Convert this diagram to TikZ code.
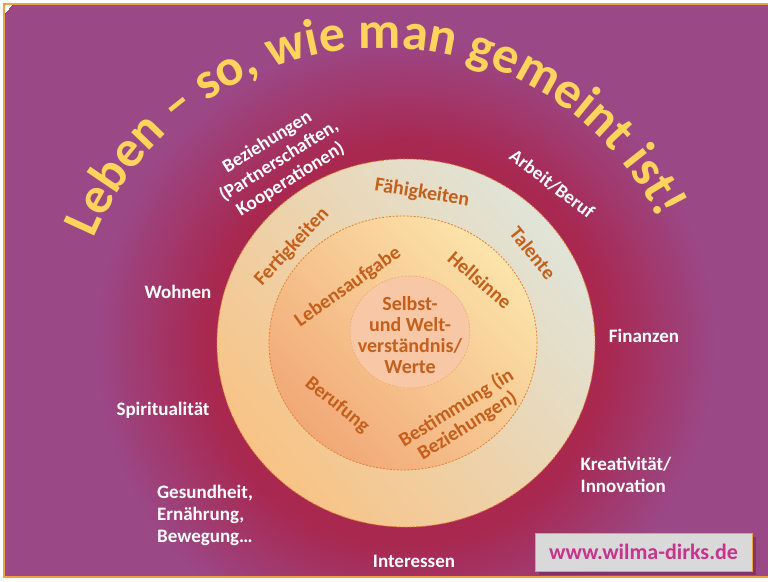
\documentclass[tikz,border=0pt]{standalone}
\usepackage{fontspec}
\setmainfont{Carlito}
\usepackage{tikz}
\usetikzlibrary{decorations.text,shadows,positioning}

\definecolor{purp}{HTML}{9B4887}
\definecolor{crim}{HTML}{A82850}
\definecolor{frameorange}{HTML}{F0A040}
\definecolor{titleyellow}{HTML}{FFD35C}
\definecolor{ringorange}{HTML}{F8C385}
\definecolor{ringyellow}{HTML}{FEEBB2}
\definecolor{ringblue}{HTML}{D6E2E5}
\definecolor{midsalmon}{HTML}{F1A877}
\definecolor{midyellow}{HTML}{FCE4AA}
\definecolor{corefill}{HTML}{F7C7A6}
\definecolor{edgeorange}{HTML}{E8802F}
\definecolor{labelorange}{HTML}{C5601C}
\definecolor{webmagenta}{HTML}{C8338E}
\definecolor{boxgray}{HTML}{D9D9D9}
\definecolor{shadowpurple}{HTML}{6E2A5A}

\pgfdeclareradialshading{bgglow}{\pgfpoint{0pt}{0pt}}{color(0pt)=(crim); color(200pt)=(crim); color(310pt)=(purp); color(520pt)=(purp)}
\newcommand{\titlefont}{\color{titleyellow}\fontsize{52}{52}\selectfont\bfseries}

\begin{document}
\begin{tikzpicture}[x=1pt,y=1pt,
		whitelabel/.style={text=white,font=\fontsize{19}{22}\selectfont\bfseries,align=center},
		ringlabel/.style={text=labelorange,font=\fontsize{20}{21}\selectfont\bfseries,align=center},
		ringedge/.style={draw=edgeorange,line width=0.8pt,dash pattern=on 2pt off 1.5pt}]
	\useasboundingbox (0,0) rectangle (768,-581);
	\fill[white] (0,0) rectangle (768,-581);
	% background
	\begin{scope}
		\clip (4,-4) rectangle (768,-577);
		\node[inner sep=0pt] (glow) at (405,-345) {\pgfuseshading{bgglow}};
	\end{scope}
	\draw[frameorange,line width=1.2pt] (4,-4) rectangle (776,-577);
	% title along the arc
	\path[decorate,decoration={text along path,text align=center,
			text={|\titlefont|Leben – so, wie man gemeint ist!}}]
		(381,-359) ++(159:311) arc[start angle=159,end angle=25,radius=311];
	% rings
	\shade[left color=ringorange,middle color=ringyellow,right color=ringblue!75!ringyellow,shading angle=130]
		(406,-343) ellipse[x radius=189,y radius=184];
	\draw[ringedge] (406,-343) ellipse[x radius=189,y radius=184];
	\shade[left color=midsalmon,right color=midyellow,shading angle=135]
		(403,-343) ellipse[x radius=134,y radius=127];
	\draw[ringedge] (403,-343) ellipse[x radius=134,y radius=127];
	\fill[corefill] (410,-332) ellipse[x radius=60,y radius=56];
	\draw[ringedge,draw=edgeorange!70,line width=0.5pt] (410,-332) ellipse[x radius=60,y radius=56];
	% outside
	\node[whitelabel,rotate=32] (beziehungen) at (279,-161) {Beziehungen\\(Partnerschaften,\\Kooperationen)};
	\node[whitelabel,rotate=-37] (arbeit) at (552,-184) {Arbeit/Beruf};
	\node[whitelabel] (wohnen) at (178,-292) {Wohnen};
	\node[whitelabel] (finanzen) at (644,-336) {Finanzen};
	\node[whitelabel] (spiritualitaet) at (163,-410) {Spiritualität};
	\node[whitelabel,align=left] (kreativitaet) at (626,-475) {Kreativität/\\Innovation};
	\node[whitelabel,align=left] (gesundheit) at (205,-515) {Gesundheit,\\Ernährung,\\Bewegung…};
	\node[whitelabel] (interessen) at (414,-561) {Interessen};
	% outer ring
	\node[ringlabel,rotate=-9] (faehigkeiten) at (422,-193) {Fähigkeiten};
	\node[ringlabel,rotate=47] (fertigkeiten) at (292,-247) {Fertigkeiten};
	\node[ringlabel,rotate=-51] (talente) at (533,-253) {Talente};
	% middle ring
	\node[ringlabel,rotate=35] (lebensaufgabe) at (348,-287) {Lebensaufgabe};
	\node[ringlabel,rotate=-41] (hellsinne) at (480,-280) {Hellsinne};
	\node[ringlabel,rotate=-39] (berufung) at (337,-405) {Berufung};
	\node[ringlabel,rotate=32] (bestimmung) at (462,-417) {Bestimmung (in\\Beziehungen)};
	% core
	\node[ringlabel] (kern) at (410,-335) {Selbst-\\und Welt-\\verständnis/\\Werte};
	% website
	\node[draw=frameorange,fill=boxgray,minimum width=217,minimum height=38,inner sep=0pt,
		drop shadow={shadow xshift=4pt,shadow yshift=-4pt,fill=shadowpurple,opacity=0.6},
		text=webmagenta,font=\fontsize{22}{22}\selectfont\bfseries] (web) at (643.5,-552) {www.wilma-dirks.de};
\end{tikzpicture}
\end{document}
